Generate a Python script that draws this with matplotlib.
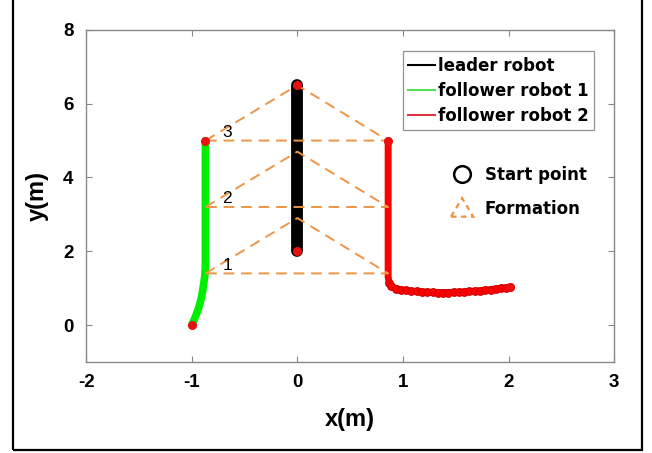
import matplotlib
matplotlib.use("Agg")
import matplotlib.pyplot as plt
from matplotlib.lines import Line2D
from matplotlib.patches import Polygon, Rectangle
from matplotlib.legend_handler import HandlerPatch

plt.rcParams['font.family'] = ['Liberation Sans', 'DejaVu Sans']
plt.rcParams['axes.unicode_minus'] = False

# ---- data ----
leader_x = [0.0, 0.0]
leader_y = [2.0, 6.5]

f1_x = [-1.0, -0.98, -0.955, -0.93, -0.91, -0.895, -0.885, -0.875, -0.87, -0.87]
f1_y = [0.0, 0.12, 0.3, 0.5, 0.72, 0.95, 1.15, 1.35, 1.6, 5.0]

f2_x = [0.86, 0.86, 0.86, 0.87, 0.89, 0.93, 0.98, 1.03, 1.08, 1.13, 1.18, 1.23,
        1.28, 1.33, 1.38, 1.43, 1.48, 1.53, 1.58, 1.63, 1.68, 1.73, 1.78, 1.83,
        1.88, 1.93, 1.98, 2.01]
f2_y = [5.0, 3.0, 1.3, 1.15, 1.05, 0.99, 0.96, 0.94, 0.92, 0.91, 0.90, 0.89,
        0.89, 0.88, 0.88, 0.88, 0.89, 0.89, 0.90, 0.91, 0.92, 0.93, 0.95, 0.96,
        0.98, 1.00, 1.01, 1.02]

start_x = [0.0, 0.0, -1.0, -0.87, 0.86, 2.01]
start_y = [2.0, 6.5, 0.0, 5.0, 5.0, 1.02]

form_labels = ['1', '2', '3']
form_left_x = [-0.87, -0.87, -0.87]
form_right_x = [0.86, 0.86, 0.86]
form_base_y = [1.4, 3.2, 5.0]
form_apex_y = [2.9, 4.7, 6.5]

xticks = [-2, -1, 0, 1, 2, 3]
yticks = [0, 2, 4, 6, 8]

orange = '#EE9545'
green = '#00EE00'
red = '#FF0000'

fig = plt.figure(figsize=(6.52, 4.53), dpi=100)
ax = fig.add_axes([0.132, 0.201, 0.810, 0.733])

# figure border
fig.patches.append(Rectangle((0.02, 0.006), 0.965, 1.2, transform=fig.transFigure,
                             fill=False, edgecolor='black', linewidth=1.6))

# formations
for lab, lx, rx, by, ay in zip(form_labels, form_left_x, form_right_x, form_base_y, form_apex_y):
    ax.plot([lx, 0.0, rx, lx], [by, ay, by, by], color=orange, lw=1.4,
            dashes=(5.5, 3.5), zorder=4)
    ax.text(lx + 0.16, by + 0.02, lab, fontsize=12.5, color='black',
            ha='left', va='bottom', zorder=6)

# trajectories
ax.plot(leader_x, leader_y, color='black', lw=8.5, solid_capstyle='round', zorder=3)
ax.plot(f1_x, f1_y, color=green, lw=5.5, solid_capstyle='round', zorder=3)
ax.plot(f2_x, f2_y, color=red, lw=5.0, solid_capstyle='round', zorder=3)
ax.plot(f2_x[3:], f2_y[3:], 'o', color=red, ms=5.5, mec='#D00000', mew=0.8, zorder=3)
ax.plot(start_x, start_y, 'o', color='#E81010', ms=5.5, zorder=5)

ax.set_xlim(-2, 3)
ax.set_ylim(-1, 8)
ax.set_xticks(xticks)
ax.set_yticks(yticks)
ax.tick_params(direction='in', top=True, right=True, length=4, width=0.8,
               color='#888888', labelsize=13.5, pad=9)
for t in ax.get_xticklabels() + ax.get_yticklabels():
    t.set_fontweight('bold')
for s in ax.spines.values():
    s.set_color('#888888')
    s.set_linewidth(1.0)

ax.set_xlabel('x(m)', fontsize=17, fontweight='bold', labelpad=12)
ax.set_ylabel('y(m)', fontsize=17, fontweight='bold', labelpad=10)

legfont = {'family': 'DejaVu Sans', 'weight': 'bold', 'size': 12}

# legend 1
h1 = [Line2D([], [], color='black', lw=1.5),
      Line2D([], [], color='#55DD55', lw=1.5),
      Line2D([], [], color='#DD3344', lw=1.5)]
leg1 = ax.legend(h1, ['leader robot', 'follower robot 1', 'follower robot 2'],
                 loc='upper right', bbox_to_anchor=(0.962, 0.935),
                 prop=legfont, frameon=True, fancybox=False,
                 edgecolor='#777777', handlelength=1.6, handletextpad=0.15,
                 labelspacing=0.4, borderpad=0.35, borderaxespad=0)
leg1.get_frame().set_linewidth(0.9)
ax.add_artist(leg1)

# legend 2
def tri_patch(legend, orig_handle, xdescent, ydescent, width, height, fontsize):
    cx = width / 2 - xdescent
    y0 = -ydescent
    return Polygon([(cx - 8, y0 - 2), (cx + 8, y0 - 2), (cx, y0 + height + 3)],
                   closed=True, fill=False)

circ = Line2D([], [], marker='o', ls='none', mfc='none', mec='black', ms=12, mew=1.8)
tri = Polygon([[0, 0], [1, 0], [0.5, 1]], fill=False, edgecolor=orange,
              linestyle=(0, (2.5, 2)), linewidth=1.6)
leg2 = ax.legend([circ, tri], ['Start point', 'Formation'], loc='upper left',
                 bbox_to_anchor=(0.66, 0.635), frameon=False,
                 prop=legfont, handlelength=1.5,
                 handletextpad=0.6, labelspacing=0.95,
                 handler_map={Polygon: HandlerPatch(patch_func=tri_patch)})

fig.savefig('out.png', dpi=100)
